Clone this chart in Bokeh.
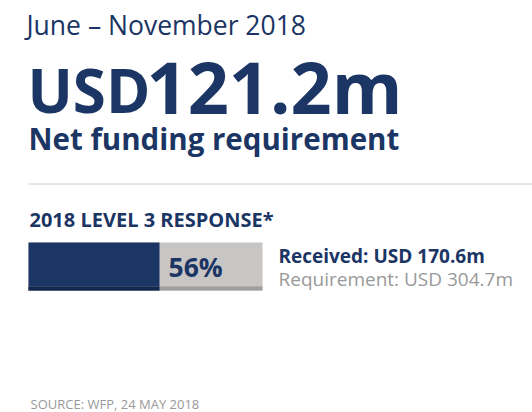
from bokeh.plotting import figure
from bokeh.models import Range1d
from bokeh.core.properties import value
from bokeh.embed import file_html
from bokeh.resources import INLINE

# ---- data ----
period = "June – November 2018"
currency = "USD"
net_requirement = "121.2m"
net_label = "Net funding requirement"
section_title = "2018 LEVEL 3 RESPONSE*"
received = [170.6]
requirement = [304.7]
source = "SOURCE: WFP, 24 MAY 2018"

NAVY = "#1b3564"
NAVY_DARK = "#12284e"
GREY = "#c8c6c4"
GREY_DARK = "#a09d9a"
FONT = value("Open Sans")

W, H = 532, 412
p = figure(width=W, height=H, output_backend="svg", toolbar_location=None,
           x_range=Range1d(0, W), y_range=Range1d(H, 0), min_border=0)
p.axis.visible = False
p.grid.visible = False
p.outline_line_color = None
p.background_fill_color = "white"
p.border_fill_color = "white"

# funding scale: 0 at bar left (28 px), requirement at bar right (262 px)
bar_x0, bar_x1 = 28, 262
k = requirement[0] / (bar_x1 - bar_x0)
p.extra_x_ranges["fund"] = Range1d(-bar_x0 * k, (W - bar_x0) * k)

SHIFT = 0.32  # baseline correction (em)

def txt(x, baseline, t, size, color=NAVY, style="bold", range_name="default", x_offset=0):
    p.text(x=[x], y=[baseline - SHIFT * size], text=[t], text_font=FONT,
           text_font_size=f"{size}px", text_color=color, text_font_style=style,
           text_baseline="alphabetic", text_align="left", x_offset=x_offset,
           x_range_name=range_name)

txt(26, 33, period, 26.5, style="normal")
txt(27, 109, currency, 60)
txt(146, 109, net_requirement, 72)
txt(28, 147, net_label, 29.5)
p.segment(x0=[28], y0=[183.5], x1=[W], y1=[183.5], line_color="#cccccc", line_width=1)
txt(29, 225, section_title, 20)

# bar
p.hbar(y=[266], left=[0], right=requirement, height=48, fill_color=GREY,
       line_color=None, x_range_name="fund")
p.hbar(y=[266], left=[0], right=received, height=48, fill_color=NAVY,
       line_color=None, x_range_name="fund")
p.hbar(y=[288], left=[0], right=requirement, height=4, fill_color=GREY_DARK,
       line_color=None, x_range_name="fund")
p.hbar(y=[288], left=[0], right=received, height=4, fill_color=NAVY_DARK,
       line_color=None, x_range_name="fund")

pct = f"{round(100 * received[0] / requirement[0])}%"
txt(received[0], 275, pct, 26.5, range_name="fund", x_offset=9)

txt(278, 262, f"Received: USD {received[0]}m", 19)
txt(278, 285, f"Requirement: USD {requirement[0]}m", 19, color="#999999", style="normal")

txt(30, 408, source, 13, color="#999999", style="normal")

open("out.html", "w").write(file_html(p, INLINE))
